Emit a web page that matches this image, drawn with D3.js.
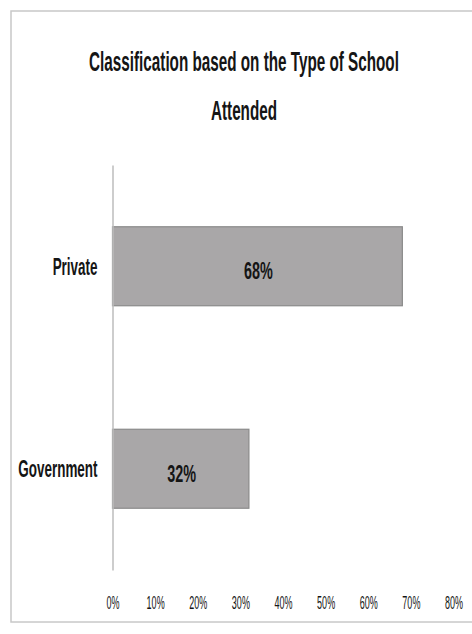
<!DOCTYPE html>
<html><head><meta charset="utf-8">
<script src="https://cdn.jsdelivr.net/npm/d3@7"></script>
<style>
body{margin:0;background:#fff;}
text{font-family:"Liberation Sans",Arial,sans-serif;fill:#151515;}
</style></head>
<body><svg id="c" width="472" height="634"></svg>
<script>
const categories = ["Private", "Government"];
const values = [0.68, 0.32];
const valueLabels = ["68%", "32%"];
const tickValues = [0, 0.1, 0.2, 0.3, 0.4, 0.5, 0.6, 0.7, 0.8];
const titleLines = ["Classification based on the Type of School", "Attended"];

const svg = d3.select("#c");
// chart area border
svg.append("rect").attr("x", 11).attr("y", 11).attr("width", 480).attr("height", 611)
  .attr("fill", "#fff").attr("stroke", "#c8c8c8").attr("stroke-width", 1.5);

const x = d3.scaleLinear().domain([0, 0.8]).range([112.5, 453.5]);
const y = d3.scaleBand().domain(categories).range([165, 570]).paddingInner(0.61).paddingOuter(0.305);

// condensed text helper: keep anchor position, scale glyphs horizontally
function condensed(sel, sx) {
  sel.each(function () {
    const t = d3.select(this);
    const tx = +t.attr("x") || 0;
    t.attr("x", tx / sx).attr("transform", `scale(${sx},1)`);
  });
}

// title
const tt = svg.append("g").selectAll("text").data(titleLines).join("text")
  .attr("text-anchor", "middle").attr("font-size", 28).attr("font-weight", "bold")
  .attr("x", 244).attr("y", (d, i) => 71 + i * 49).text(d => d);
const tScale = 310 / tt.node().getComputedTextLength();
condensed(tt, tScale);

// bars
svg.selectAll("rect.bar").data(categories).join("rect").attr("class", "bar")
  .attr("x", x(0)).attr("y", d => y(d))
  .attr("width", (d, i) => x(values[i]) - x(0)).attr("height", y.bandwidth())
  .attr("fill", "#a9a7a8").attr("stroke", "#8a8a8a").attr("stroke-width", 1.2);

// value labels
const vl = svg.selectAll("text.vl").data(categories).join("text").attr("class", "vl")
  .attr("x", (d, i) => (x(0) + x(values[i])) / 2 + 1).attr("y", d => y(d) + y.bandwidth() / 2 + 13)
  .attr("text-anchor", "middle").attr("font-size", 24).attr("font-weight", "bold")
  .text((d, i) => valueLabels[i]);
condensed(vl, 0.6);

// y axis
const ya = svg.append("g").attr("transform", `translate(${x(0)},0)`)
  .call(d3.axisLeft(y).tickSize(0).tickPadding(15));
ya.select(".domain").attr("stroke", "#bdbdbd").attr("stroke-width", 1.5);
ya.selectAll("text").attr("font-size", 23).attr("font-weight", "bold").attr("fill", "#151515")
  .attr("dy", "0.36em").style("font-family", '"Liberation Sans",Arial,sans-serif');
condensed(ya.selectAll("text"), 0.585);

// x axis tick labels (no axis line)
const xa = svg.append("g").attr("transform", "translate(0,609)")
  .call(d3.axisBottom(x).tickValues(tickValues).tickFormat(d3.format(".0%")).tickSize(0));
xa.select(".domain").remove();
xa.selectAll("text").attr("font-size", 18).attr("fill", "#222").attr("dy", 0).attr("y", 0)
  .style("font-family", '"Liberation Sans",Arial,sans-serif');
condensed(xa.selectAll("text"), 0.5);
</script></body></html>
